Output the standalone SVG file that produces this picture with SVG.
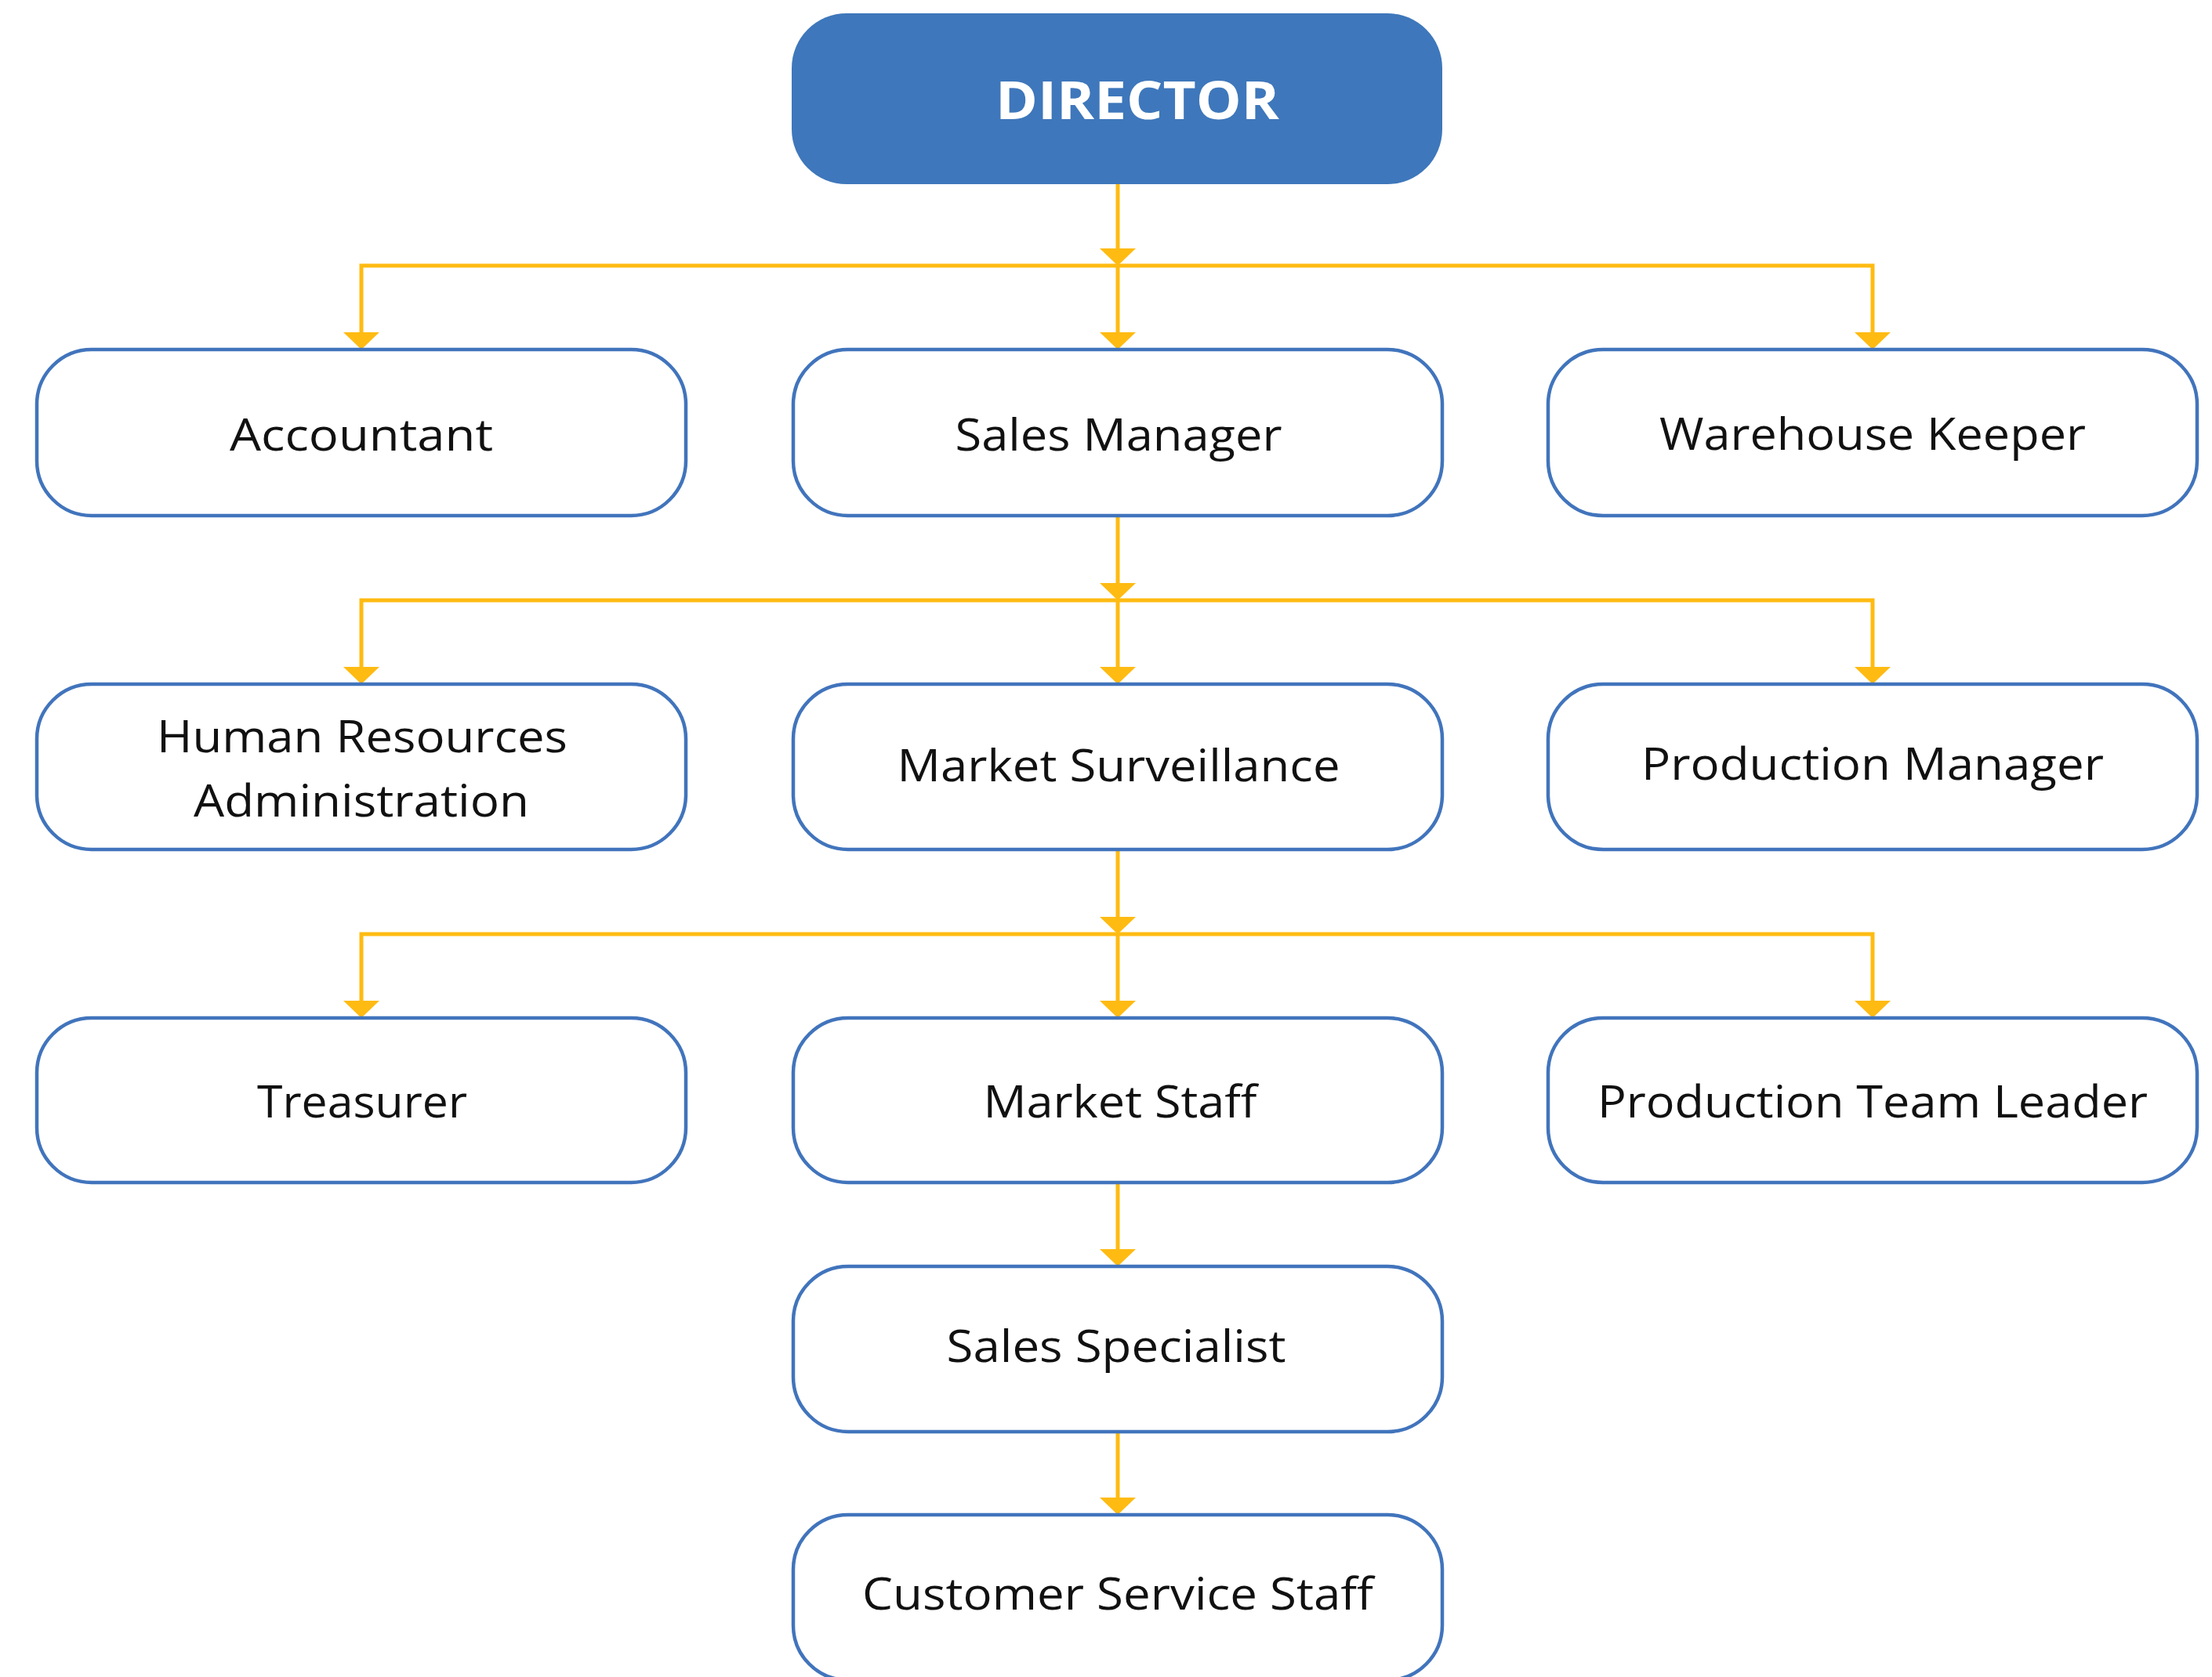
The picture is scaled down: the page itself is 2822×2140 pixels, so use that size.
<svg xmlns="http://www.w3.org/2000/svg" width="2822" height="2140" viewBox="0 0 2822 2140">
  <style>
    .box { fill: #ffffff; stroke: #4174BC; stroke-width: 4.5; }
    .top { fill: #3E77BB; stroke: none; }
    .lbl { font-family: "Open Sans", "Liberation Sans", sans-serif; font-size: 56px; fill: #111111; text-anchor: middle; }
    .ttl { font-family: "Open Sans", "Liberation Sans", sans-serif; font-size: 66px; font-weight: 700; fill: #ffffff; text-anchor: middle; }
    .conn { fill: none; stroke: #FFBB12; stroke-width: 5; }
  </style>
  <defs>
    <marker id="arr" markerUnits="userSpaceOnUse" viewBox="0 0 22 46" markerWidth="22" markerHeight="46" refX="12" refY="23" orient="auto">
      <path d="M0,0 L22,23 L0,46 Z" fill="#FFBB12"/>
    </marker>
  </defs>
  <rect width="2822" height="2140" fill="#ffffff"/>

  <g id="connectors">
    <path class="conn" d="M1426 235 V329" marker-end="url(#arr)"/>
    <path class="conn" d="M1426 339 V436" marker-end="url(#arr)"/>
    <path class="conn" d="M1426 339 H461 V436" marker-end="url(#arr)"/>
    <path class="conn" d="M1426 339 H2389 V436" marker-end="url(#arr)"/>

    <path class="conn" d="M1426 658 V756" marker-end="url(#arr)"/>
    <path class="conn" d="M1426 766 V863" marker-end="url(#arr)"/>
    <path class="conn" d="M1426 766 H461 V863" marker-end="url(#arr)"/>
    <path class="conn" d="M1426 766 H2389 V863" marker-end="url(#arr)"/>

    <path class="conn" d="M1426 1084 V1182" marker-end="url(#arr)"/>
    <path class="conn" d="M1426 1192 V1289" marker-end="url(#arr)"/>
    <path class="conn" d="M1426 1192 H461 V1289" marker-end="url(#arr)"/>
    <path class="conn" d="M1426 1192 H2389 V1289" marker-end="url(#arr)"/>

    <path class="conn" d="M1426 1509 V1606" marker-end="url(#arr)"/>
    <path class="conn" d="M1426 1827 V1923" marker-end="url(#arr)"/>
  </g>

  <g id="director">
    <rect class="top" x="1010" y="17" width="830" height="218" rx="70" ry="70"/>
    <text class="ttl" x="1451" y="152" textLength="362" lengthAdjust="spacingAndGlyphs">DIRECTOR</text>
  </g>

  <g id="accountant">
    <rect class="box" x="47" y="446" width="828" height="212" rx="70" ry="70"/>
    <text class="lbl" x="461" y="575" textLength="336" lengthAdjust="spacingAndGlyphs">Accountant</text>
  </g>
  <g id="sales-manager">
    <rect class="box" x="1012" y="446" width="828" height="212" rx="70" ry="70"/>
    <text class="lbl" x="1427" y="575" textLength="417" lengthAdjust="spacingAndGlyphs">Sales Manager</text>
  </g>
  <g id="warehouse-keeper">
    <rect class="box" x="1975" y="446" width="828" height="212" rx="70" ry="70"/>
    <text class="lbl" x="2389" y="574" textLength="544" lengthAdjust="spacingAndGlyphs">Warehouse Keeper</text>
  </g>

  <g id="hr-admin">
    <rect class="box" x="47" y="873" width="828" height="211" rx="70" ry="70"/>
    <text class="lbl" x="462" y="960" textLength="524" lengthAdjust="spacingAndGlyphs">Human Resources</text>
    <text class="lbl" x="461" y="1042" textLength="428" lengthAdjust="spacingAndGlyphs">Administration</text>
  </g>
  <g id="market-surveillance">
    <rect class="box" x="1012" y="873" width="828" height="211" rx="70" ry="70"/>
    <text class="lbl" x="1427" y="997" textLength="565" lengthAdjust="spacingAndGlyphs">Market Surveillance</text>
  </g>
  <g id="production-manager">
    <rect class="box" x="1975" y="873" width="828" height="211" rx="70" ry="70"/>
    <text class="lbl" x="2389" y="995" textLength="590" lengthAdjust="spacingAndGlyphs">Production Manager</text>
  </g>

  <g id="treasurer">
    <rect class="box" x="47" y="1299" width="828" height="210" rx="70" ry="70"/>
    <text class="lbl" x="462" y="1426" textLength="268" lengthAdjust="spacingAndGlyphs">Treasurer</text>
  </g>
  <g id="market-staff">
    <rect class="box" x="1012" y="1299" width="828" height="210" rx="70" ry="70"/>
    <text class="lbl" x="1429" y="1426" textLength="349" lengthAdjust="spacingAndGlyphs">Market Staff</text>
  </g>
  <g id="production-team-leader">
    <rect class="box" x="1975" y="1299" width="828" height="210" rx="70" ry="70"/>
    <text class="lbl" x="2389" y="1426" textLength="702" lengthAdjust="spacingAndGlyphs">Production Team Leader</text>
  </g>

  <g id="sales-specialist">
    <rect class="box" x="1012" y="1616" width="828" height="211" rx="70" ry="70"/>
    <text class="lbl" x="1424" y="1738" textLength="433" lengthAdjust="spacingAndGlyphs">Sales Specialist</text>
  </g>
  <g id="customer-service-staff">
    <rect class="box" x="1012" y="1933" width="828" height="211" rx="70" ry="70"/>
    <text class="lbl" x="1426" y="2054" textLength="652" lengthAdjust="spacingAndGlyphs">Customer Service Staff</text>
  </g>
</svg>
